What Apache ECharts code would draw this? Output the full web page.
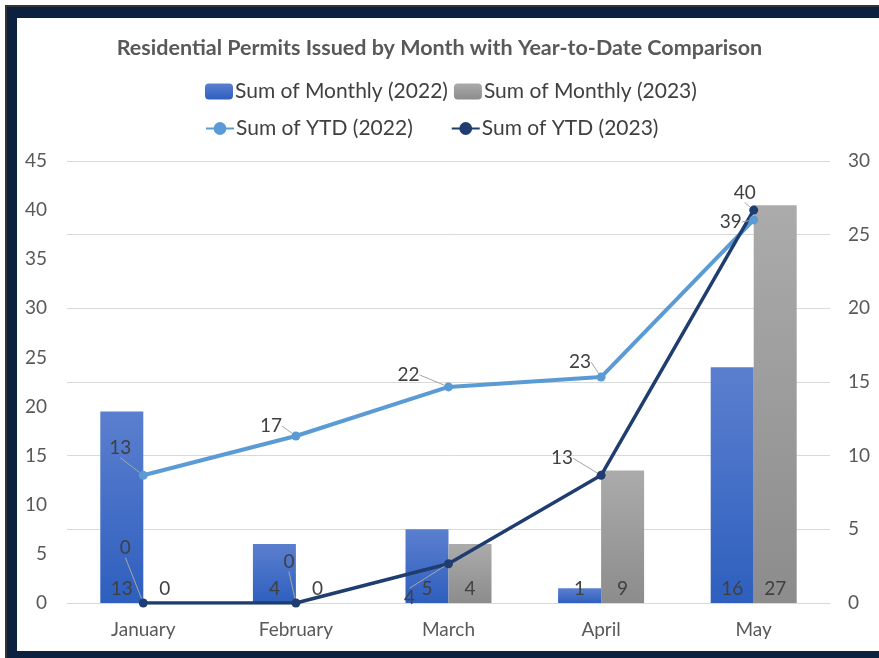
<!DOCTYPE html>
<html>
<head>
<meta charset="utf-8">
<script src="https://cdn.jsdelivr.net/npm/echarts@6/dist/echarts.min.js"></script>
<style>
  html, body { margin: 0; padding: 0; background: #fff; }
  #permits-chart { position: absolute; left: 0; top: 0; width: 879px; height: 658px; }
  /* dark frame round the chart (cut off on the right) */
  #frame {
    position: absolute; left: 5px; top: 5px; width: 900px; height: 700px;
    border-left: 2px solid #333; border-top: 2px solid #333;
    box-sizing: border-box; pointer-events: none;
  }
  #frame-inner {
    position: absolute; left: 0; top: 0; width: 900px; height: 633px;
    border: 11px solid #0c2040; border-left-width: 10px; border-right: none;
    box-sizing: content-box; pointer-events: none;
  }
</style>
</head>
<body>
<div id="permits-chart"></div>
<div id="frame"><div id="frame-inner"></div></div>
<script>
const months = ['January', 'February', 'March', 'April', 'May'];
const monthly2022 = [13, 4, 5, 1, 16];
const monthly2023 = [0, 0, 4, 9, 27];
const ytd2022 = [13, 17, 22, 23, 39];
const ytd2023 = [0, 0, 4, 13, 40];

// label offsets (px) from the point, like the hand-placed Excel labels
const ytd2022LabelShift = [[-23, -27], [-25, -10], [-40, -12], [-21, -15], [-23, 2]];
const ytd2023LabelShift = [[-18, -55], [-7, -41], [-39, 34], [-39, -17], [-9, -17]];

const FONT = 'Lato';
const chart = echarts.init(document.getElementById('permits-chart'));

function barGradient(top, bottom) {
  return new echarts.graphic.LinearGradient(0, 0, 0, 1, [
    { offset: 0, color: top },
    { offset: 1, color: bottom }
  ]);
}

const barLabel = {
  show: true,
  position: 'insideBottom',
  distance: 5,
  fontFamily: FONT,
  fontSize: 19,
  color: '#404040'
};

function lineLabel(shifts) {
  return {
    label: {
      show: true,
      position: 'inside',
      fontFamily: FONT,
      fontSize: 19,
      color: '#404040'
    },
    labelLine: {
      show: true,
      lineStyle: { color: '#a6a6a6', width: 1 }
    },
    labelLayout: function (params) {
      const s = shifts[params.dataIndex];
      return { dx: s[0], dy: s[1] };
    }
  };
}

const option = {
  backgroundColor: '#fff',
  animation: false,
  title: {
    text: 'Residential Permits Issued by Month with Year-to-Date Comparison',
    left: 'center',
    top: 32,
    textStyle: { fontFamily: FONT, fontWeight: 'bold', fontSize: 21.5, color: '#595959' }
  },
  legend: [
    {
      data: ['Sum of Monthly (2022)', 'Sum of Monthly (2023)'],
      left: 200,
      top: 76,
      itemWidth: 28,
      itemHeight: 16,
      itemGap: 6,
      textStyle: { fontFamily: FONT, fontSize: 21, color: '#404040', padding: [0, 0, 0, -3] }
    },
    {
      data: ['Sum of YTD (2022)', 'Sum of YTD (2023)'],
      left: 200,
      top: 113,
      itemWidth: 28,
      itemHeight: 16,
      itemGap: 38,
      textStyle: { fontFamily: FONT, fontSize: 21, color: '#404040', padding: [0, 0, 0, -3] }
    }
  ],
  grid: { left: 67, right: 49, top: 161, bottom: 55 },
  xAxis: {
    type: 'category',
    data: months,
    axisTick: { show: false },
    axisLine: { lineStyle: { color: '#d9d9d9' } },
    axisLabel: { fontFamily: FONT, fontSize: 19, color: '#595959', margin: 17 }
  },
  yAxis: [
    {
      type: 'value',
      min: 0, max: 45, interval: 5,
      splitLine: { show: false },
      axisLine: { show: false },
      axisTick: { show: false },
      axisLabel: { fontFamily: FONT, fontSize: 19, color: '#595959', margin: 20 }
    },
    {
      type: 'value',
      min: 0, max: 30, interval: 5,
      splitLine: { lineStyle: { color: '#d9d9d9' } },
      axisLine: { show: false },
      axisTick: { show: false },
      axisLabel: { fontFamily: FONT, fontSize: 19, color: '#595959', margin: 18 }
    }
  ],
  series: [
    {
      name: 'Sum of Monthly (2022)',
      type: 'bar',
      yAxisIndex: 1,
      data: monthly2022,
      barWidth: 43,
      barGap: '0%',
      itemStyle: { color: barGradient('#5b7fcf', '#2e5fbe') },
      label: barLabel
    },
    {
      name: 'Sum of Monthly (2023)',
      type: 'bar',
      yAxisIndex: 1,
      data: monthly2023,
      barWidth: 43,
      barGap: '0%',
      itemStyle: { color: barGradient('#ababab', '#8c8c8c') },
      label: barLabel
    },
    Object.assign({
      name: 'Sum of YTD (2022)',
      type: 'line',
      yAxisIndex: 0,
      data: ytd2022,
      symbol: 'circle',
      symbolSize: 9,
      lineStyle: { color: '#5b9bd5', width: 4 },
      itemStyle: { color: '#5b9bd5' }
    }, lineLabel(ytd2022LabelShift)),
    Object.assign({
      name: 'Sum of YTD (2023)',
      type: 'line',
      yAxisIndex: 0,
      data: ytd2023,
      symbol: 'circle',
      symbolSize: 9,
      lineStyle: { color: '#1f3d70', width: 3.5 },
      itemStyle: { color: '#1f3d70' }
    }, lineLabel(ytd2023LabelShift))
  ]
};

chart.setOption(option);
</script>
</body>
</html>
